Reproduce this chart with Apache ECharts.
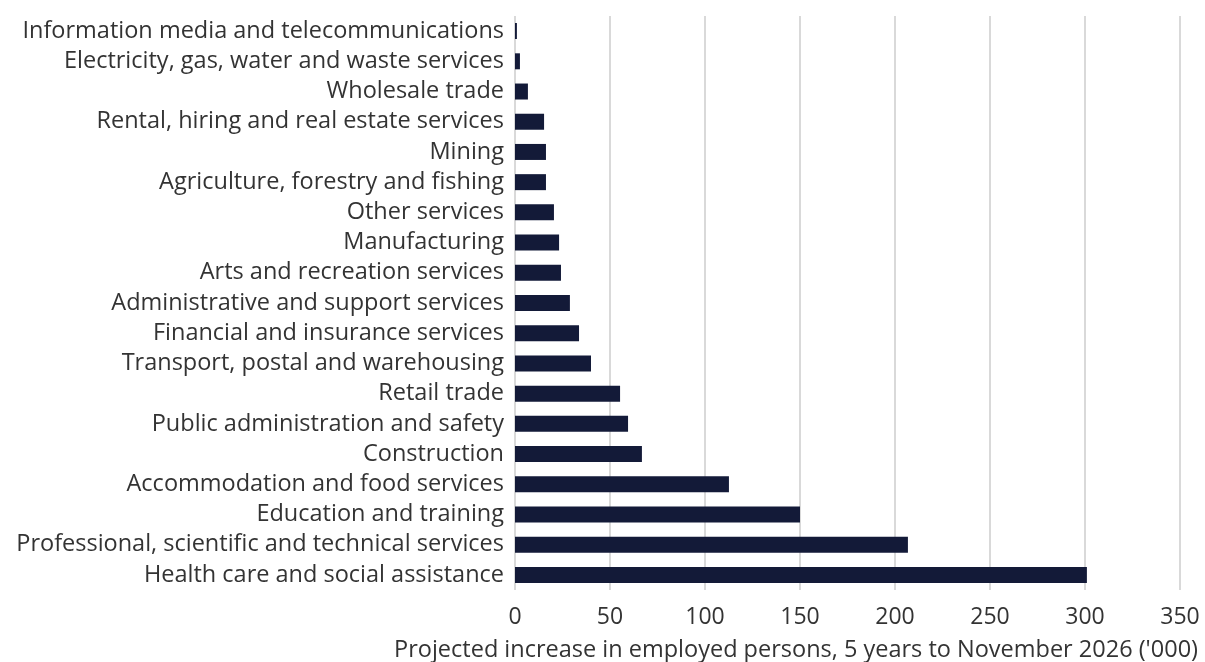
<!DOCTYPE html>
<html>
<head>
<meta charset="utf-8">
<script src="https://cdn.jsdelivr.net/npm/echarts@6/dist/echarts.min.js"></script>
<style>
  html, body { margin: 0; padding: 0; background: #ffffff; }
  #chart { width: 1205px; height: 662px; }
</style>
</head>
<body>
<div id="chart"></div>
<script>
// Industries, listed top to bottom
const industries = [
  "Information media and telecommunications",
  "Electricity, gas, water and waste services",
  "Wholesale trade",
  "Rental, hiring and real estate services",
  "Mining",
  "Agriculture, forestry and fishing",
  "Other services",
  "Manufacturing",
  "Arts and recreation services",
  "Administrative and support services",
  "Financial and insurance services",
  "Transport, postal and warehousing",
  "Retail trade",
  "Public administration and safety",
  "Construction",
  "Accommodation and food services",
  "Education and training",
  "Professional, scientific and technical services",
  "Health care and social assistance"
];

// Projected increase in employed persons ('000)
const increase = [1.0, 2.6, 6.8, 15.3, 16.3, 16.3, 20.5, 23.2, 24.2, 28.9, 33.7, 40.0, 55.3, 59.5, 66.8, 112.6, 150.0, 206.8, 301.0];

const axisTitle = "Projected increase in employed persons, 5 years to November 2026 ('000)";

const FONT = "'Open Sans', 'Noto Sans', sans-serif";
const TEXT = "#333333";

const chart = echarts.init(document.getElementById('chart'), null, { renderer: 'canvas' });
chart.setOption({
  animation: false,
  grid: { left: 515, right: 25, top: 16, bottom: 72, containLabel: false },
  xAxis: {
    type: 'value',
    min: 0, max: 350, interval: 50,
    axisLine: { show: false },
    axisTick: { show: false },
    axisLabel: { color: TEXT, fontFamily: FONT, fontSize: 23, margin: 16 },
    splitLine: { show: true, lineStyle: { color: '#d9d9d9', width: 2 } }
  },
  yAxis: {
    type: 'category',
    data: industries,
    inverse: true,
    axisLine: { show: false },
    axisTick: { show: false },
    axisLabel: { color: TEXT, fontFamily: FONT, fontSize: 23.5, margin: 11, interval: 0 }
  },
  series: [{
    type: 'bar',
    data: increase,
    barWidth: 16,
    itemStyle: { color: '#131a38' }
  }],
  graphic: [{
    type: 'text',
    right: 7,
    top: 638,
    style: { text: axisTitle, fill: TEXT, font: '23.5px ' + FONT }
  }]
});
</script>
</body>
</html>
